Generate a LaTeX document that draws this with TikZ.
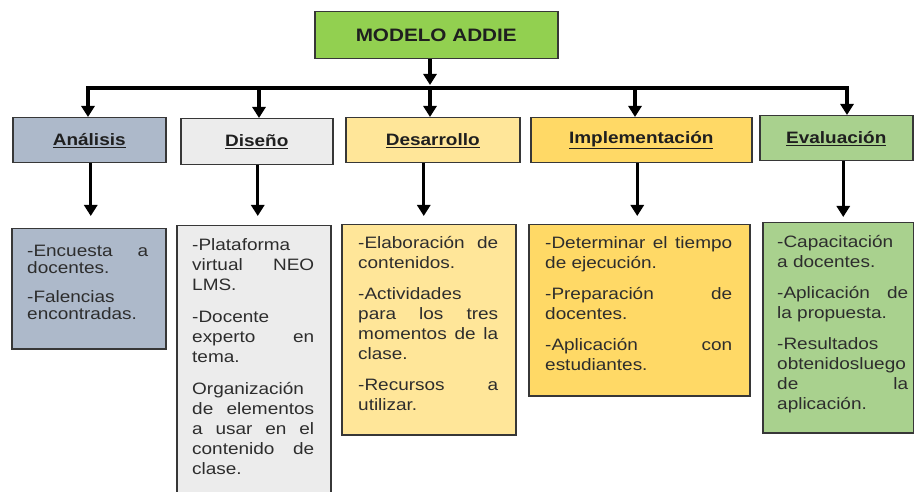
\documentclass[tikz,border=0pt]{standalone}
\usepackage{fontspec}
\setmainfont{Liberation Sans}[FakeStretch=1.15]
\usetikzlibrary{arrows.meta}
\definecolor{cTop}{RGB}{146,208,80}
\definecolor{cAna}{RGB}{173,185,202}
\definecolor{cDis}{RGB}{236,236,236}
\definecolor{cDes}{RGB}{255,230,153}
\definecolor{cImp}{RGB}{255,217,102}
\definecolor{cEva}{RGB}{169,209,142}
\definecolor{cLine}{RGB}{55,55,55}
\definecolor{cText}{RGB}{45,45,45}
\newcommand{\JL}[1]{\hbox to\hsize{#1}}
\newcommand{\LL}[1]{\hbox to\hsize{#1\hfil}}
\newcommand{\PG}{\vskip 11pt}
\begin{document}
\begin{tikzpicture}[x=1pt,y=-1pt,
  box/.style={draw=cLine, line width=1.5pt, inner sep=0pt, anchor=north west},
  hdr/.style={box, minimum height=45pt, font=\fontsize{16.5}{18}\selectfont\bfseries, text=black!88},
  ctext/.style={inner sep=0pt, anchor=north west, text=cText, font=\fontsize{16.5}{20}\selectfont},
  arr/.style={line width=3.2pt, -{Triangle[length=11pt,width=13pt]}}]
\clip (0,0) rectangle (914,492);
\fill[white] (0,0) rectangle (914,492);

% title
\node[box, fill=cTop, minimum width=243pt, minimum height=47pt,
      font=\fontsize{18}{20}\selectfont\bfseries, text=black!88] (top) at (314,11) {MODELO ADDIE};

% headers
\node[hdr, fill=cAna, minimum width=153pt] (h1) at (12,117) {\underline{Análisis}};
\node[hdr, fill=cDis, minimum width=152pt, minimum height=46pt] (h2) at (180,118) {\underline{Diseño}};
\node[hdr, fill=cDes, minimum width=174pt] (h3) at (345,117) {\underline{Desarrollo}};
\node[hdr, fill=cImp, minimum width=221pt] (h4) at (530,117) {\underline{Implementación}};
\node[hdr, fill=cEva, minimum width=153pt] (h5) at (759,115) {\underline{Evaluación}};

% content boxes
\node[box, fill=cAna, minimum width=154pt, minimum height=120pt] (c1) at (11,228) {};
\node[box, fill=cDis, minimum width=154pt, minimum height=290pt] (c2) at (176,225) {};
\node[box, fill=cDes, minimum width=174pt, minimum height=210pt] (c3) at (341,224) {};
\node[box, fill=cImp, minimum width=221pt, minimum height=171pt] (c4) at (528,224) {};
\node[box, fill=cEva, minimum width=151pt, minimum height=210pt] (c5) at (762,222) {};

% content texts
\node[ctext] (t1) at ([xshift=16pt,yshift=-4pt]c1.north west) {\parbox[t]{121pt}{\baselineskip=16.5pt\hbox{}\vskip8pt
  \JL{-Encuesta\hfill a}
  \LL{docentes.}
  \vskip13pt
  \LL{-Falencias}
  \LL{encontradas.}}};

\node[ctext] (t2) at ([xshift=16pt,yshift=-4pt]c2.north west) {\parbox[t]{122pt}{\hbox{}\vskip1pt
  \LL{-Plataforma}
  \JL{virtual\hfill NEO}
  \LL{LMS.}
  \vskip12pt
  \LL{-Docente}
  \JL{experto\hfill en}
  \LL{tema.}
  \vskip12pt
  \LL{Organización}
  \JL{de\hfill elementos}
  \JL{a\hfill usar\hfill en\hfill el}
  \JL{contenido\hfill de}
  \LL{clase.}}};

\node[ctext] (t3) at ([xshift=17pt,yshift=-4pt]c3.north west) {\parbox[t]{140pt}{\hbox{}
  \JL{-Elaboración\hfill de}
  \LL{contenidos.}
  \PG
  \LL{-Actividades}
  \JL{para\hfill los\hfill tres}
  \JL{momentos\hfill de\hfill la}
  \LL{clase.}
  \PG
  \JL{-Recursos\hfill a}
  \LL{utilizar.}}};

\node[ctext] (t4) at ([xshift=17pt,yshift=-4pt]c4.north west) {\parbox[t]{187pt}{\hbox{}
  \JL{-Determinar\hfill el\hfill tiempo}
  \LL{de ejecución.}
  \PG
  \JL{-Preparación\hfill de}
  \LL{docentes.}
  \PG
  \JL{-Aplicación\hfill con}
  \LL{estudiantes.}}};

\node[ctext] (t5) at ([xshift=15pt,yshift=-4pt]c5.north west) {\parbox[t]{131pt}{\hbox{}\vskip1pt
  \LL{-Capacitación}
  \LL{a docentes.}
  \PG
  \JL{-Aplicación\hfill de}
  \LL{la propuesta.}
  \PG
  \LL{-Resultados}
  \LL{obtenidosluego}
  \JL{de\hfill la}
  \LL{aplicación.}}};

% bus
\coordinate (b1) at (88,88);
\coordinate (b2) at (259,88);
\coordinate (b3) at (430,88);
\coordinate (b4) at (635,88);
\coordinate (b5) at (847,88);

\draw[arr, shorten >=3pt] (top.south -| b3) -- (b3);
\draw[arr] (b3) -| (b1 |- h1.north);
\draw[arr] (b3) -| (b5 |- h5.north);
\draw[arr] (b2) -- (b2 |- h2.north);
\draw[arr] (b3) -- (b3 |- h3.north);
\draw[arr] (b4) -- (b4 |- h4.north);

% header to content
\draw[arr, shorten >=12pt] ([xshift=1.5pt]h1.south) -- ([xshift=1.5pt]h1.south |- c1.north);
\draw[arr, shorten >=9pt] ([xshift=1pt]h2.south) -- ([xshift=1pt]h2.south |- c2.north);
\draw[arr, shorten >=8pt] ([xshift=-9pt]h3.south) -- ([xshift=-9pt]h3.south |- c3.north);
\draw[arr, shorten >=8pt] ([xshift=-4pt]h4.south) -- ([xshift=-4pt]h4.south |- c4.north);
\draw[arr, shorten >=5pt] ([xshift=7pt]h5.south) -- ([xshift=7pt]h5.south |- c5.north);
\end{tikzpicture}
\end{document}
